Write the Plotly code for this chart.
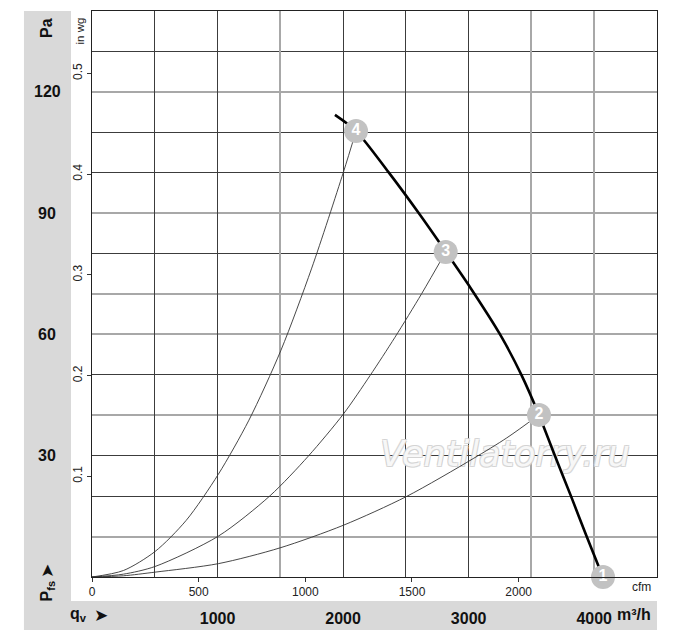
import plotly.graph_objects as go

# ---------------- data (m³/h, Pa) ----------------
fan_qv = [1935, 2103, 2360, 2612, 2817, 3015, 3250, 3420, 3560, 3687, 3815, 3940, 4060]
fan_p = [114.3, 110.3, 100.2, 89.6, 80.5, 71.5, 60.0, 50.0, 40.1, 30.0, 20.0, 10.0, 0.7]

sys4_qv = [0, 250, 502, 750, 1006, 1250, 1505, 1750, 2002, 2103]
sys4_p = [0, 1.6, 6.3, 14.0, 25.4, 38.8, 56.1, 76.4, 100.1, 110.3]

sys3_qv = [0, 250, 502, 1006, 1418, 1723, 2002, 2214, 2413, 2626, 2817]
sys3_p = [0, 0.7, 2.6, 10.1, 20.1, 29.9, 40.3, 49.8, 59.3, 70.1, 80.4]

sys2_qv = [0, 250, 502, 1006, 1497, 2002, 2504, 3037, 3303, 3560]
sys2_p = [0, 0.3, 1.2, 3.3, 7.2, 12.8, 19.9, 29.3, 34.4, 40.1]

op_qv = [4070, 3560, 2817, 2103]
op_p = [0, 40.1, 80.4, 110.3]
op_labels = ["1", "2", "3", "4"]

qv_ticks = [1000, 2000, 3000, 4000]
cfm_ticks = [0, 500, 1000, 1500, 2000]
pa_ticks = [30, 60, 90, 120]
inwg_ticks = [0.1, 0.2, 0.3, 0.4, 0.5]
grid_x_dark = [500, 1000, 2000, 2500, 3000]
grid_x_light = [1500, 3500, 4000]
grid_y_dark = [20, 30, 50, 80, 100, 110, 130]
grid_y_light = [10, 40, 60, 70, 90, 120]

QV_MAX = 4500
P_MAX = 140
CFM_PER_M3H = 1 / 1.699
INWG_PER_PA = 1 / 249.089

FONT = "Liberation Sans, Arial, sans-serif"
PANEL = "#d9d9d9"

fig = go.Figure()

# invisible traces so that the overlay axes (grid, cfm, in wg) get drawn
for xa, ya in [("x2", "y"), ("x3", "y"), ("x4", "y"), ("x", "y2"), ("x", "y3"), ("x", "y4")]:
    fig.add_trace(go.Scatter(x=[None], y=[None], xaxis=xa, yaxis=ya, mode="markers",
                             marker=dict(opacity=0), hoverinfo="skip", showlegend=False))

# watermark (below curves)
fig.add_trace(go.Scatter(
    x=[3290], y=[29.6], mode="text", text=["Ventilatorry.ru"],
    textfont=dict(family="DejaVu Sans", size=35, style="italic",
                  color="rgba(255,255,255,0.85)",
                  shadow="-1px -1px 0 #d2d2d2, 1px -1px 0 #d2d2d2, -1px 1px 0 #d2d2d2, 1px 1px 0 #d2d2d2"),
    hoverinfo="skip", showlegend=False, cliponaxis=False))

for qx, py in [(sys4_qv, sys4_p), (sys3_qv, sys3_p), (sys2_qv, sys2_p)]:
    fig.add_trace(go.Scatter(x=qx, y=py, mode="lines",
                             line=dict(color="#333333", width=0.9, shape="spline", smoothing=0.8),
                             hoverinfo="skip", showlegend=False))

fig.add_trace(go.Scatter(x=fan_qv, y=fan_p, mode="lines",
                         line=dict(color="#000000", width=2.6, shape="spline", smoothing=0.8),
                         hoverinfo="skip", showlegend=False))

fig.add_trace(go.Scatter(x=op_qv, y=op_p, mode="markers+text", text=op_labels,
                         textposition="middle center",
                         textfont=dict(family=FONT, size=16, color="white", weight="bold"),
                         marker=dict(size=24, color="#c2c2c2", line=dict(width=0)),
                         cliponaxis=False, hoverinfo="skip", showlegend=False))

base_hidden = dict(showticklabels=False, ticks="", showline=False, zeroline=False)

fig.update_layout(
    width=700, height=643,
    margin=dict(l=92, r=43, t=11, b=66, pad=0),
    paper_bgcolor="white", plot_bgcolor="white",
    font=dict(family=FONT, color="#111111"),
    xaxis=dict(range=[0, QV_MAX], showgrid=False, zeroline=False,
               showline=True, mirror=True, linecolor="#222222", linewidth=1,
               tickmode="array", tickvals=qv_ticks, ticktext=[str(v) for v in qv_ticks],
               ticks="", ticklabelstandoff=27,
               tickfont=dict(family=FONT, size=16, color="#111111", weight="bold")),
    xaxis2=dict(overlaying="x", anchor="y", side="bottom",
                range=[0, QV_MAX * CFM_PER_M3H], showgrid=False, zeroline=False, showline=False,
                tickmode="array", tickvals=cfm_ticks, ticks="outside", ticklen=4,
                tickcolor="#333333", tickwidth=1,
                tickfont=dict(family=FONT, size=12, color="#222222")),
    xaxis3=dict(overlaying="x", anchor="y", range=[0, QV_MAX], tickmode="array",
                tickvals=grid_x_dark, showgrid=True, gridcolor="#3c3c3c", gridwidth=1, **base_hidden),
    xaxis4=dict(overlaying="x", anchor="y", range=[0, QV_MAX], tickmode="array",
                tickvals=grid_x_light, showgrid=True, gridcolor="#a8a8a8", gridwidth=1.6, **base_hidden),
    yaxis=dict(range=[0, P_MAX], showgrid=False, zeroline=False,
               showline=True, mirror=True, linecolor="#222222", linewidth=1,
               showticklabels=False, ticks=""),
    yaxis2=dict(overlaying="y", anchor="x", side="left",
                range=[0, P_MAX * INWG_PER_PA], showgrid=False, zeroline=False, showline=False,
                tickmode="array", tickvals=inwg_ticks, ticktext=[str(v) for v in inwg_ticks],
                tickangle=-90, ticks="outside", ticklen=4, tickcolor="#333333",
                tickfont=dict(family=FONT, size=12, color="#222222")),
    yaxis3=dict(overlaying="y", anchor="x", range=[0, P_MAX], tickmode="array",
                tickvals=grid_y_dark, showgrid=True, gridcolor="#3c3c3c", gridwidth=1, **base_hidden),
    yaxis4=dict(overlaying="y", anchor="x", range=[0, P_MAX], tickmode="array",
                tickvals=grid_y_light, showgrid=True, gridcolor="#a8a8a8", gridwidth=1.6, **base_hidden),
)

# grey label panels
fig.add_shape(type="rect", xref="paper", yref="paper", x0=-0.1204, x1=-0.0372, y0=-0.0936, y1=1.0,
              fillcolor=PANEL, line=dict(width=0), layer="below")
fig.add_shape(type="rect", xref="paper", yref="paper", x0=-0.1204, x1=1.0, y0=-0.0936, y1=-0.0424,
              fillcolor=PANEL, line=dict(width=0), layer="below")

ann = []
bold16 = dict(family=FONT, size=16, color="#111111", weight="bold")
for v in pa_ticks:
    ann.append(dict(x=-0.0796, xref="paper", y=v, yref="y", text=str(v), showarrow=False,
                    xanchor="center", yanchor="middle", font=bold16))
ann.append(dict(x=-0.0796, xref="paper", y=0.970, yref="paper", text="Pa", textangle=-90,
                showarrow=False, xanchor="center", yanchor="middle", font=bold16))
ann.append(dict(x=-0.0212, xref="paper", y=0.9638, yref="paper", text="in wg", textangle=-90,
                showarrow=False, xanchor="center", yanchor="middle",
                font=dict(family=FONT, size=11.5, color="#222222")))
ann.append(dict(x=-0.0796, xref="paper", y=-0.0256, yref="paper", text="P<sub>fs</sub>", textangle=-90,
                showarrow=False, xanchor="center", yanchor="middle", font=bold16))
ann.append(dict(x=-0.0796, xref="paper", y=0.0106, yref="paper", text="➤", textangle=-90,
                showarrow=False, xanchor="center", yanchor="middle",
                font=dict(family="DejaVu Sans", size=17, color="#111111")))
ann.append(dict(x=-0.0425, xref="paper", y=-0.0671, yref="paper", text="q<sub>v</sub>  ",
                showarrow=False, xanchor="left", yanchor="middle", font=bold16))
ann.append(dict(x=0.0, xref="paper", y=-0.0671, yref="paper", text="➤",
                showarrow=False, xanchor="left", yanchor="middle",
                font=dict(family="DejaVu Sans", size=17, color="#111111")))
ann.append(dict(x=0.9717, xref="paper", y=-0.0177, yref="paper", text="cfm",
                showarrow=False, xanchor="center", yanchor="middle",
                font=dict(family=FONT, size=12, color="#222222")))
ann.append(dict(x=0.926, xref="paper", y=-0.0671, yref="paper", text="m³/h",
                showarrow=False, xanchor="left", yanchor="middle", font=bold16))
fig.update_layout(annotations=ann)

fig.write_html("out.html", config=dict(displayModeBar=False),
               post_script="document.body.style.margin='0';document.body.style.padding='0';")
